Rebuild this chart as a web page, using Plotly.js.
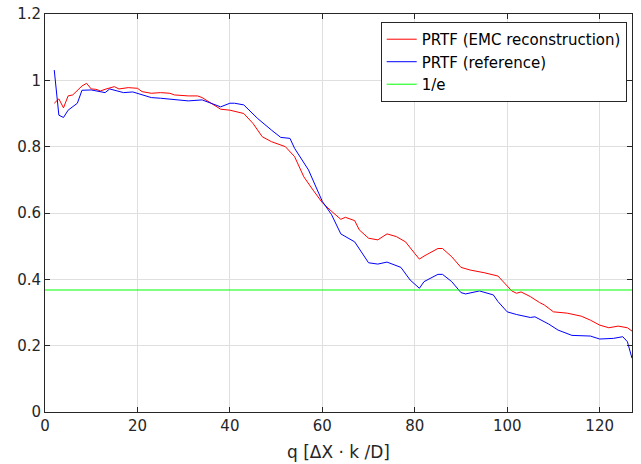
<!DOCTYPE html>
<html><head><meta charset="utf-8">
<script src="https://cdn.plot.ly/plotly-3.0.1.min.js"></script>
<style>body{margin:0;background:#fff}#c{width:641px;height:464px}</style>
</head><body><div id="c"></div><script>
const qEmc = [2,3,4,5,6,8,9,10,11,12,13,15,16,18,20,21,23,25,27,28,31,33,34,36,38,40,42,43,45,47,49,52,54,56,58,60,62,64,65,67,68,70,72,74,76,78,80,81,82,85,86,88,90,92,95,98,101,102,103,105,107,108,110,113,116,118,120,122,124,126,127];
const prtfEmc = [0.931,0.944,0.917,0.953,0.956,0.983,0.991,0.974,0.973,0.968,0.973,0.981,0.974,0.978,0.976,0.966,0.961,0.963,0.961,0.956,0.953,0.953,0.948,0.931,0.913,0.910,0.904,0.900,0.870,0.830,0.815,0.800,0.770,0.709,0.669,0.631,0.605,0.581,0.587,0.577,0.549,0.524,0.519,0.537,0.529,0.513,0.478,0.461,0.470,0.493,0.493,0.468,0.436,0.428,0.420,0.410,0.365,0.358,0.362,0.348,0.330,0.323,0.302,0.298,0.289,0.277,0.262,0.254,0.259,0.254,0.244];
const qRef = [2,3,4,5,7,8,10,13,14,17,19,23,25,28,31,34,36,38,40,41,43,46,49,51,53,54,57,59,60,62,64,67,70,72,74,77,79,81,82,85,86,88,90,91,94,97,98,100,102,105,106,109,111,114,118,120,123,125,126,127];
const prtfRef = [1.031,0.895,0.888,0.910,0.931,0.970,0.971,0.963,0.974,0.963,0.965,0.948,0.946,0.943,0.938,0.941,0.931,0.920,0.931,0.931,0.926,0.885,0.850,0.828,0.825,0.795,0.730,0.669,0.635,0.595,0.537,0.513,0.450,0.446,0.452,0.436,0.398,0.373,0.393,0.415,0.415,0.393,0.360,0.356,0.365,0.353,0.333,0.302,0.294,0.285,0.287,0.265,0.247,0.231,0.229,0.220,0.222,0.227,0.212,0.162];
const invE = 1/Math.E;
const lineX = [0,127];
const names = ['PRTF (EMC reconstruction)','PRTF (reference)','1/e'];
const xTicks = [0,20,40,60,80,100,120];
const yTicks = [0,0.2,0.4,0.6,0.8,1,1.2];

const F = 'DejaVu Sans, sans-serif';
const data = [
  {x:qEmc,y:prtfEmc,type:'scatter',mode:'lines',name:names[0],line:{color:'#ff0000',width:1}},
  {x:qRef,y:prtfRef,type:'scatter',mode:'lines',name:names[1],line:{color:'#0000ff',width:1}},
  {x:lineX,y:lineX.map(()=>invE),type:'scatter',mode:'lines',name:names[2],line:{color:'#00ff00',width:1}}
];
const ax = {showline:true,linecolor:'#262626',linewidth:1,mirror:'ticks',ticks:'inside',ticklen:5,tickcolor:'#262626',
  showgrid:true,gridcolor:'#dfdfdf',gridwidth:1,zeroline:false,tickfont:{family:F,size:15,color:'#262626'}};
const layout = {
  width:641,height:464,margin:{l:45,r:9,t:14,b:52},paper_bgcolor:'#fff',plot_bgcolor:'#fff',
  font:{family:F,size:15,color:'#262626'},
  xaxis:Object.assign({},ax,{range:[0,127],tickvals:xTicks,title:{text:'q [ΔX · k /D]',font:{family:F,size:17,color:'#262626'},standoff:12}}),
  yaxis:Object.assign({},ax,{range:[0,1.2],tickvals:yTicks}),
  showlegend:true,
  legend:{x:0.991,y:0.98,xanchor:'right',yanchor:'top',bgcolor:'#fff',bordercolor:'#262626',borderwidth:1,
    font:{family:F,size:15,color:'#000'},itemwidth:30,tracegroupgap:0}
};
Plotly.newPlot('c',data,layout,{staticPlot:true});
</script></body></html>
